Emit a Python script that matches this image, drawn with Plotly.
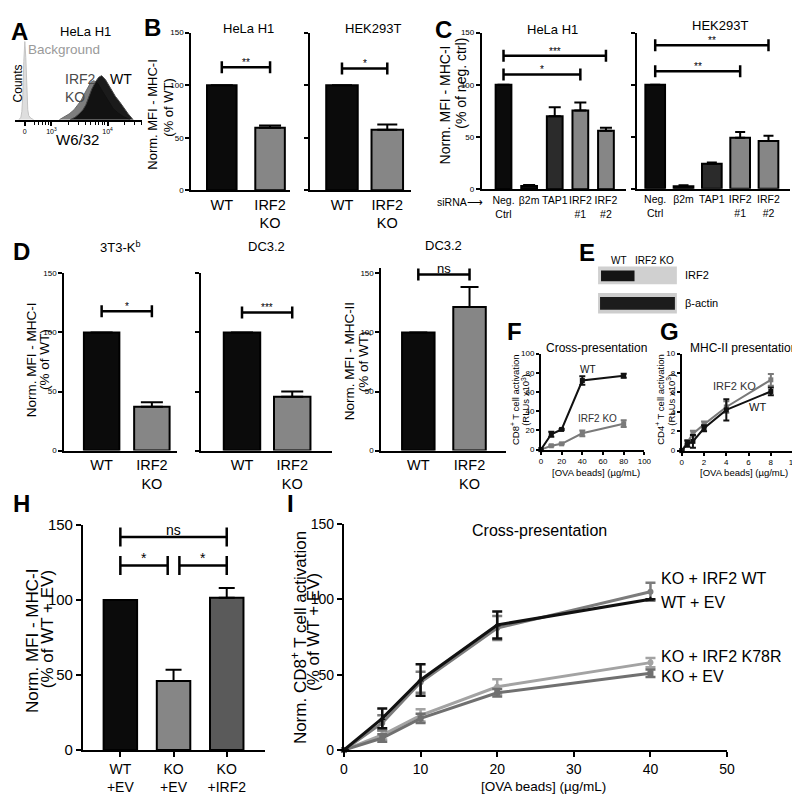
import math
import plotly.graph_objects as go

W, H = 800, 798
FONT = "Arial, 'Liberation Sans', Helvetica, sans-serif"

# ---------------- DATA ----------------
# A: flow cytometry histograms (display channel, % of max count)
a_bg_ch = [4, 6, 7, 8, 9, 10, 11, 12, 13, 14, 16, 19]
a_bg_counts = [0, 3, 10, 30, 70, 94, 75, 35, 12, 5, 2, 0]
a_ko_ch = [45, 50, 55, 60, 64, 67, 70, 73, 75, 77, 80, 84, 88, 92, 96, 100, 105, 110, 117]
a_ko_counts = [0, 3, 7, 12, 18, 23, 30, 37, 41, 45, 47, 44, 36, 28, 20, 13, 8, 4, 0]
a_wt_ch = [56, 61, 65, 69, 72, 75, 78, 82, 85, 88, 92, 97, 102, 106, 110, 115, 120]
a_wt_counts = [0, 3, 7, 12, 18, 27, 37, 46, 51, 53, 48, 38, 28, 22, 15, 7, 0]
a_tick_labels = ["0", "10<sup>3</sup>", "10<sup>4</sup>"]

# B
b_cats = ["WT", "IRF2<br>KO"]
b_hela = [100, 59.5]
b_hela_err = [0, 2.2]
b_hek = [100, 57.5]
b_hek_err = [0, 5.0]

# C
c_cats = ["Neg.<br>Ctrl", "β2m", "TAP1", "IRF2<br>#1", "IRF2<br>#2"]
c_hela = [100, 3, 70, 75.5, 56]
c_hela_err = [0, 1, 8.5, 7.5, 3]
c_hek = [100, 2.5, 24, 49, 46]
c_hek_err = [0, 0.8, 1.2, 5.5, 5]

# D
d_cats = ["WT", "IRF2<br>KO"]
d_3t3 = [100, 37]
d_3t3_err = [0, 4]
d_dc_mhc1 = [100, 45.5]
d_dc_mhc1_err = [0, 4.5]
d_dc_mhc2 = [100, 121.5]
d_dc_mhc2_err = [0, 17]

# F
f_dose = [0, 10, 20, 40, 80]
f_wt = [0, 16, 21, 72, 77]
f_wt_err = [0, 2.5, 0.5, 4.5, 2]
f_ko = [0, 4, 6, 17, 27]
f_ko_err = [0, 0.5, 0.5, 3, 3.5]

# G
g_dose = [0, 0.5, 1, 2, 4, 8]
g_wt = [0, 0.7, 0.95, 2.3, 4.2, 6.1]
g_wt_err = [0, 0.3, 0.65, 0.3, 1.1, 0.4]
g_ko = [0, 0.9, 1.75, 2.7, 4.5, 7.3]
g_ko_err = [0, 0.2, 0.3, 0.3, 0.6, 0.6]

# H
h_cats = ["WT<br>+EV", "KO<br>+EV", "KO<br>+IRF2"]
h_vals = [100, 46, 101.5]
h_err = [0, 7.5, 6.5]

# I
i_dose = [0, 5, 10, 20, 40]
i_wt_ev = [0, 21, 46.5, 83, 100]
i_wt_ev_err = [0, 6.5, 10.5, 9, 0]
i_ko_irf2wt = [0, 18, 45, 81, 105]
i_ko_irf2wt_err = [0, 5, 7, 8, 6]
i_ko_k78r = [0, 10, 23, 42, 58]
i_ko_k78r_err = [0, 3, 4, 5, 3]
i_ko_ev = [0, 8, 21, 38, 51]
i_ko_ev_err = [0, 2.5, 3, 2.5, 2.5]
i_labels = ["KO + IRF2 WT", "WT + EV", "KO + IRF2 K78R", "KO + EV"]

# significance brackets: (from index, to index, height, label)
sig_b_hela = [(0, 1, 117, "**")]
sig_b_hek = [(0, 1, 116, "*")]
sig_c_hela = [(0, 4, 128, "***"), (0, 3, 110, "*")]
sig_c_hek = [(0, 4, 138, "**"), (0, 3, 113, "**")]
sig_d_3t3 = [(0, 1, 118, "*")]
sig_d_dc1 = [(0, 1, 117, "***")]
sig_d_dc2 = [(0, 1, 149, "ns")]
sig_h = [(0, 2, 142, "ns"), (0, 0.89, 123, "*"), (1.11, 2, 123, "*")]

# ---------------- STYLE ----------------
BLACK = "#0b0b0b"
GRAY = "#868686"
DARK = "#2b2b2b"
DARK2 = "#5a5a5a"

fig = go.Figure()
layout_axes = {}
annots = []
shapes = []


def axkey(kind, n):
    return f"{kind}axis" + ("" if n == 1 else str(n))


def axref(kind, n):
    return kind + ("" if n == 1 else str(n))


def make_axes(n, xpx, xrange, ybot, ytop, yrange, xkw=None, ykw=None):
    base = dict(showgrid=False, zeroline=False, showline=True, linecolor="black",
                linewidth=2, fixedrange=True, ticks="outside", tickcolor="black",
                tickwidth=2, ticklen=4, tickangle=0,
                tickfont=dict(size=8, color="black", family=FONT))
    xa = dict(base, domain=[xpx[0] / W, xpx[1] / W], range=xrange, anchor=axref("y", n))
    ya = dict(base, domain=[1 - ybot / H, 1 - ytop / H], range=yrange, anchor=axref("x", n))
    if xkw:
        xa.update(xkw)
    if ykw:
        ya.update(ykw)
    layout_axes[axkey("x", n)] = xa
    layout_axes[axkey("y", n)] = ya


def txt(x, y, s, size, color="black", angle=0, xanchor="center", yanchor="middle", bold=False):
    annots.append(dict(x=x / W, y=1 - y / H, xref="paper", yref="paper",
                       text=f"<b>{s}</b>" if bold else s, showarrow=False,
                       font=dict(size=size, color=color, family=FONT), textangle=angle,
                       xanchor=xanchor, yanchor=yanchor))


def bar_panel(n, axis_px, centers_px, y0_px, y150_px, cats, vals, errs, colors, bar_px,
              ylabels, xfont, ymax=150, cap=8, xticks=False, yfont=8, ticklen=4):
    c0 = centers_px[0]
    d = centers_px[1] - centers_px[0]
    xr = [(axis_px[0] - c0) / d, (axis_px[1] - c0) / d]
    scale = (y0_px - y150_px) / 150.0
    ytop = y0_px - scale * ymax
    xkw = dict(type="category", ticks="outside" if xticks else "", ticklen=5, tickangle=0,
               tickfont=dict(size=xfont, color="black", family=FONT))
    ykw = dict(tickvals=[0, 50, 100, 150], showticklabels=ylabels, ticklen=ticklen,
               tickfont=dict(size=yfont, color="black", family=FONT))
    make_axes(n, axis_px, xr, y0_px, ytop, [0, ymax], xkw, ykw)
    fig.add_trace(go.Bar(
        x=cats, y=vals, width=bar_px / d,
        marker=dict(color=colors, line=dict(color="black", width=2)),
        error_y=dict(type="data", symmetric=False, array=errs, arrayminus=[0] * len(errs),
                     color="black", thickness=2, width=cap),
        xaxis=axref("x", n), yaxis=axref("y", n)))


def brackets(n, sigs, cap_px=6, fs=10, lw=2.5, tshift=-3):
    for xa, xb, y, label in sigs:
        ln = dict(color="black", width=lw)
        shapes.append(dict(type="line", xref=axref("x", n), yref=axref("y", n),
                           x0=xa, x1=xb, y0=y, y1=y, line=ln))
        for xx in (xa, xb):
            shapes.append(dict(type="line", xref=axref("x", n), yref=axref("y", n),
                               ysizemode="pixel", yanchor=y, x0=xx, x1=xx,
                               y0=-cap_px, y1=cap_px, line=ln))
        annots.append(dict(xref=axref("x", n), yref=axref("y", n), x=(xa + xb) / 2, y=y,
                           text=label, showarrow=False, yanchor="bottom", yshift=tshift,
                           font=dict(size=fs, color="black", family=FONT)))


# ---------------- A ----------------
minor_a = [37 - 57 * (1 - math.log10(k)) for k in range(5, 10)] + \
          [37 + 57 * math.log10(k) for k in range(2, 10)] + \
          [94 + 57 * math.log10(k) for k in range(2, 5)]
make_axes(1, (3, 132), [0, 129], 105, 20, [0, 100],
          xkw=dict(tickvals=[10, 37, 94], ticktext=a_tick_labels, ticklen=4, tickwidth=1.5,
                   tickfont=dict(size=7, color="black", family=FONT),
                   minor=dict(tickvals=minor_a, ticklen=3, tickwidth=1, ticks="outside",
                              tickcolor="black")),
          ykw=dict(visible=False))
fig.add_trace(go.Scatter(x=a_bg_ch, y=a_bg_counts, mode="lines", fill="tozeroy",
                         line=dict(color="#c4c4c4", width=1), fillcolor="#dedede",
                         xaxis="x", yaxis="y"))
fig.add_trace(go.Scatter(x=a_ko_ch, y=a_ko_counts, mode="lines", fill="tozeroy",
                         line=dict(color="#6a6a6a", width=1), fillcolor="#7e7e7e",
                         xaxis="x", yaxis="y"))
fig.add_trace(go.Scatter(x=a_wt_ch, y=a_wt_counts, mode="lines", fill="tozeroy",
                         line=dict(color="#444", width=1), fillcolor="rgba(10,10,10,0.93)",
                         xaxis="x", yaxis="y"))
txt(8, 15, "A", 24, bold=True)
txt(75, 15, "HeLa H1", 13)
txt(53, 33, "Background", 13.5, color="#9a9a9a")
txt(52, 63, "IRF2", 14, color="#4a4a4a", xanchor="left")
txt(52, 82, "KO", 14, color="#4a4a4a", xanchor="left")
txt(97, 63, "WT", 14, xanchor="left")
txt(6, 68, "Counts", 12, angle=-90)
txt(67, 125, "W6/32", 15)

# ---------------- B ----------------
bar_panel(2, (182, 282), (213, 262), 177, 16, b_cats, b_hela, b_hela_err, [BLACK, GRAY],
          30, True, 14.5, cap=11)
bar_panel(3, (303, 405), (335, 381), 177, 16, b_cats, b_hek, b_hek_err, [BLACK, GRAY],
          32, False, 14.5, cap=10)
brackets(2, sig_b_hela)
brackets(3, sig_b_hek)
txt(143, 11, "B", 24, bold=True)
txt(240, 12, "HeLa H1", 13)
txt(367, 12, "HEK293T", 13)
txt(143, 100, "Norm. MFI - MHC-I", 13, angle=-90)
txt(158, 92, "(% of WT)", 13, angle=-90)

# ---------------- C ----------------
bar_panel(4, (477, 623), (499, 525), 176, 16, c_cats, c_hela, c_hela_err,
          [BLACK, BLACK, DARK, GRAY, GRAY], 16, True, 10.5, cap=6)
bar_panel(5, (635, 790), (653, 681.75), 175.5, 16, c_cats, c_hek, c_hek_err,
          [BLACK, BLACK, DARK, GRAY, GRAY], 20, False, 10.5, cap=5)
brackets(4, sig_c_hela)
brackets(5, sig_c_hek)
txt(438, 13, "C", 24, bold=True)
txt(549, 13, "HeLa H1", 13)
txt(719, 9, "HEK293T", 13)
txt(440, 90, "Norm. MFI - MHC-I", 14, angle=-90)
txt(455, 68, "(% of neg. ctrl)", 14, angle=-90)
txt(455, 189, "siRNA⟶", 10.5)

# ---------------- D ----------------
bar_panel(6, (53, 168), (91, 142), 443, 262, d_cats, d_3t3, d_3t3_err, [BLACK, GRAY],
          36, True, 14.5, cap=11)
bar_panel(7, (192, 325), (233.5, 284.5), 443, 262, d_cats, d_dc_mhc1, d_dc_mhc1_err,
          [BLACK, GRAY], 37, False, 14.5, cap=11)
bar_panel(8, (375, 502), (412.5, 464.5), 443, 262, d_cats, d_dc_mhc2, d_dc_mhc2_err,
          [BLACK, GRAY], 33, True, 14.5, ymax=155, cap=9)
brackets(6, sig_d_3t3)
brackets(7, sig_d_dc1)
brackets(8, sig_d_dc2, fs=13, tshift=-3)
txt(10, 240, "D", 24, bold=True)
txt(110, 235, "3T3-K<sup>b</sup>", 13)
txt(258, 235, "DC3.2", 13)
txt(438, 233, "DC3.2", 13)
txt(20, 350, "Norm. MFI - MHC-I", 13.5, angle=-90)
txt(33, 350, "(% of WT)", 13.5, angle=-90)
txt(343, 352, "Norm. MFI - MHC-II", 13.5, angle=-90)
txt(357, 352, "(% of WT)", 13.5, angle=-90)

# ---------------- E (blot image) ----------------
def prect(x0, y0, x1, y1, color):
    shapes.append(dict(type="rect", xref="paper", yref="paper", x0=x0 / W, x1=x1 / W,
                       y0=1 - y1 / H, y1=1 - y0 / H, fillcolor=color, line=dict(width=0),
                       layer="below"))

prect(595, 255, 675, 273, "#d0d0d0")
prect(598, 259, 632, 270, "#141414")
prect(595, 282, 675, 303, "#cdcdcd")
prect(597, 286, 673, 299, "#1c1c1c")
txt(584, 241, "E", 24, bold=True)
txt(616, 249, "WT", 10)
txt(652, 249, "IRF2 KO", 10)
txt(681, 264, "IRF2", 11, xanchor="left")
txt(681, 292, "β-actin", 11, xanchor="left")

# ---------------- F ----------------
line_ax = dict(ticklen=3, tickwidth=1.5, tickfont=dict(size=8, color="black", family=FONT))
make_axes(9, (537, 642), [0, 100], 442, 344, [0, 100],
          xkw=dict(line_ax, tickvals=[0, 20, 40, 60, 80, 100]),
          ykw=dict(line_ax, tickvals=[0, 20, 40, 60, 80, 100]))
fig.add_trace(go.Scatter(x=f_dose, y=f_ko, mode="lines+markers", cliponaxis=False,
                         line=dict(color="#7a7a7a", width=2),
                         marker=dict(symbol="square", size=5, color="#7a7a7a"),
                         error_y=dict(type="data", array=f_ko_err, color="#7a7a7a",
                                      thickness=2, width=3),
                         xaxis="x9", yaxis="y9"))
fig.add_trace(go.Scatter(x=f_dose, y=f_wt, mode="lines+markers", cliponaxis=False,
                         line=dict(color="#111", width=2),
                         marker=dict(symbol="square", size=5, color="#111"),
                         error_y=dict(type="data", array=f_wt_err, color="#111",
                                      thickness=2, width=3),
                         xaxis="x9", yaxis="y9"))
annots.append(dict(xref="x9", yref="y9", x=45.7, y=83.7, text="WT", showarrow=False,
                   font=dict(size=10, color="#111", family=FONT)))
annots.append(dict(xref="x9", yref="y9", x=54.8, y=32.7, text="IRF2 KO", showarrow=False,
                   font=dict(size=10, color="#333", family=FONT)))
txt(510, 321, "F", 24, bold=True)
txt(593, 338, "Cross-presentation", 12)
txt(510, 391, "CD8<sup>+</sup> T cell activation", 9.5, angle=-90)
txt(521, 391, "(RLUs x10<sup>3</sup>)", 9.5, angle=-90)
txt(593, 465, "[OVA beads] (µg/mL)", 9.5)

# ---------------- G ----------------
make_axes(10, (680, 793), [0, 10], 443, 344, [0, 10],
          xkw=dict(line_ax, tickvals=[0, 2, 4, 6, 8, 10]),
          ykw=dict(line_ax, tickvals=[0, 2, 4, 6, 8, 10]))
fig.add_trace(go.Scatter(x=g_dose, y=g_ko, mode="lines+markers", cliponaxis=False,
                         line=dict(color="#7a7a7a", width=2),
                         marker=dict(symbol="square", size=5, color="#7a7a7a"),
                         error_y=dict(type="data", array=g_ko_err, color="#7a7a7a",
                                      thickness=2, width=3),
                         xaxis="x10", yaxis="y10"))
fig.add_trace(go.Scatter(x=g_dose, y=g_wt, mode="lines+markers", cliponaxis=False,
                         line=dict(color="#111", width=2),
                         marker=dict(symbol="square", size=5, color="#111"),
                         error_y=dict(type="data", array=g_wt_err, color="#111",
                                      thickness=2, width=3),
                         xaxis="x10", yaxis="y10"))
annots.append(dict(xref="x10", yref="y10", x=4.73, y=6.67, text="IRF2 KO", showarrow=False,
                   font=dict(size=11, color="#333", family=FONT)))
annots.append(dict(xref="x10", yref="y10", x=6.8, y=4.5, text="WT", showarrow=False,
                   font=dict(size=11, color="#111", family=FONT)))
txt(668, 321, "G", 24, bold=True)
txt(743, 338, "MHC-II presentation", 12)
txt(658, 391, "CD4<sup>+</sup> T cell activation", 9.5, angle=-90)
txt(669, 391, "(RLUs x10<sup>3</sup>)", 9.5, angle=-90)
txt(743, 465, "[OVA beads] (µg/mL)", 9.5)

# ---------------- H ----------------
bar_panel(11, (72, 257), (110, 164), 749, 519, h_cats, h_vals, h_err, [BLACK, GRAY, DARK2],
          34, True, 14, cap=8, xticks=True, yfont=15, ticklen=5)
brackets(11, sig_h, cap_px=9.5, fs=14, lw=2.5)
txt(10, 497, "H", 24, bold=True)
txt(21, 638, "Norm. MFI - MHC-I", 17, angle=-90)
txt(36, 625, "(% of WT + EV)", 17, angle=-90)

# ---------------- I ----------------
make_axes(12, (337, 726), [0, 50], 749, 518, [0, 150],
          xkw=dict(tickvals=[0, 10, 20, 30, 40, 50], ticklen=5,
                   tickfont=dict(size=14, color="black", family=FONT)),
          ykw=dict(tickvals=[0, 50, 100, 150], ticklen=5,
                   tickfont=dict(size=14, color="black", family=FONT)))
i_series = [
    (i_ko_k78r, i_ko_k78r_err, "#a3a3a3", "circle"),
    (i_ko_ev, i_ko_ev_err, "#707070", "square"),
    (i_ko_irf2wt, i_ko_irf2wt_err, "#7c7c7c", "circle"),
    (i_wt_ev, i_wt_ev_err, "#111111", "triangle-up"),
]
for vals, errs, col, sym in i_series:
    fig.add_trace(go.Scatter(x=i_dose, y=vals, mode="lines+markers", cliponaxis=False,
                             line=dict(color=col, width=3),
                             marker=dict(symbol=sym, size=6, color=col),
                             error_y=dict(type="data", array=errs, color=col, thickness=2.5,
                                          width=5),
                             xaxis="x12", yaxis="y12"))
for label, yv in zip(i_labels, [114, 98, 62, 49]):
    annots.append(dict(xref="x12", yref="y12", x=40, y=yv, xshift=9, text=label,
                       showarrow=False, xanchor="left",
                       font=dict(size=16, color="black", family=FONT)))
txt(283, 497, "I", 24, bold=True)
txt(536, 525, "Cross-presentation", 16)
txt(292, 634, "Norm. CD8<sup>+</sup> T cell activation", 17, angle=-90)
txt(306, 628, "(% of WT + EV)", 17, angle=-90)
txt(540, 786, "[OVA beads] (µg/mL)", 13.5)

fig.update_layout(width=W, height=H, margin=dict(l=0, r=0, t=0, b=0),
                  paper_bgcolor="white", plot_bgcolor="white", showlegend=False,
                  hovermode=False, font=dict(family=FONT, color="black"),
                  shapes=shapes, annotations=annots, **layout_axes)
fig.write_html("out.html")
